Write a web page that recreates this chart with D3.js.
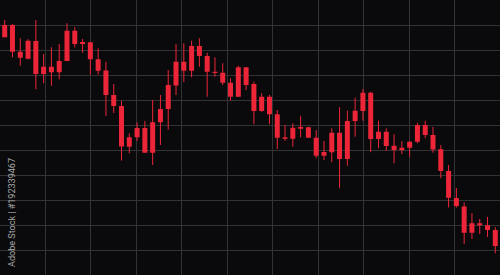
<!DOCTYPE html>
<html>
<head>
<meta charset="utf-8">
<script src="https://cdn.jsdelivr.net/npm/d3@7"></script>
<style>
  html, body { margin: 0; padding: 0; background: #0a0a0c; }
  #chart { width: 500px; height: 275px; overflow: hidden; }
</style>
</head>
<body>
<div id="chart"></div>
<script>
let w = 500;
let h = 275;

// candles, left to right
let opens  = [95.1, 100, 89.3, 86.5, 93.6, 80.4, 83.3, 81.1, 85.6, 97.7, 92.4, 93.1, 86.3, 81.8, 72, 67.6,
  51.3, 55.1, 58.8, 48.9, 61.1, 66.4, 75.8, 85.3, 81.7, 91.6, 87.6, 81.3, 80.9, 76.9, 71.3, 83.1,
  76.4, 65.6, 71.3, 64.3, 54.5, 54.5, 58.5, 59.1, 54.9, 47.7, 49.1, 56.9, 46.4, 61.6, 65.6, 72.9,
  54.4, 57.3, 51.7, 50, 50.9, 53.3, 60, 56, 50.3, 41.6, 30.8, 27.4, 16.9, 20.7, 19.9, 18];
let closes = [100, 89.3, 86.9, 93.7, 80.4, 83.3, 81.1, 85.6, 97.7, 92.4, 93.2, 86.3, 81.7, 72, 67.6, 51.4,
  55.1, 58.8, 48.9, 61.1, 66.4, 76, 85.3, 81.7, 91.6, 87.6, 81.3, 80.9, 76.9, 71.3, 83.1, 76,
  65.6, 71.3, 64.3, 54.9, 55.1, 58.9, 59.2, 54.9, 47.7, 49.2, 56.9, 46.4, 61.6, 65.7, 72.9, 54.4,
  57.3, 51.6, 50, 50.9, 53.3, 60, 56, 50.2, 41.6, 30.9, 27.6, 16.9, 20.7, 19.9, 18, 11.6];
let highs  = [102, 100.4, 94.7, 94.3, 102, 88.4, 91.1, 92.4, 100.7, 99.1, 94.4, 93.1, 90.7, 85.3, 76.4, 69.6,
  56.6, 61, 61.6, 70, 72, 82, 92.4, 92.7, 93.7, 94.7, 88.9, 87.1, 84.7, 78.7, 83.7, 83.1,
  77.3, 72.7, 72, 66, 60, 60.7, 63.7, 59.3, 58, 53.6, 58.7, 67.1, 65.7, 70.9, 74.4, 73.3,
  61.7, 58.7, 56.3, 53.6, 53.6, 60.9, 61.7, 59.2, 52, 44, 34.8, 29, 24.8, 22.4, 23.2, 19.1];
let lows   = [95.1, 87.1, 83.7, 86.3, 74.3, 76.7, 75.7, 78.3, 85.6, 91.1, 88.9, 80.2, 80.2, 63.6, 64.8, 45.8,
  48.7, 53.7, 48.9, 44, 52, 58.2, 72, 77.2, 79.1, 83.3, 71.3, 79.3, 76, 69.7, 71.3, 74,
  60.3, 65.3, 60.3, 50.4, 53.6, 51.3, 55.1, 54.9, 46.7, 46, 45.1, 34.7, 43.7, 55.3, 61.7, 49.1,
  50.7, 49.7, 44.7, 48.4, 47.1, 52.7, 54.7, 48.9, 38.7, 27, 27, 12.4, 14.4, 16.4, 15.2, 8.7];

let priceGrid = [10, 20, 30, 40, 50, 60, 70, 80, 90, 100];
let timeGrid = [1, 2, 3, 4, 5, 6, 7, 8, 9, 10];
let stamp = 'Adobe Stock | #192339467';

let candles = opens.map((o, i) => ({ i: i, o: o, c: closes[i], hi: highs[i], lo: lows[i] }));

let svg = d3.select('#chart').
append('svg').
attr('width', w).
attr('height', h);

svg.append('rect').
attr('width', w).
attr('height', h).
attr('fill', '#0a0a0c');

let x = d3.scalePoint().
domain(candles.map(d => d.i)).
range([0.8, 499.2]).
padding(0.5);

let y = d3.scaleLinear().
domain([0, 110]).
range([h, 0]);

let xGrid = d3.scaleLinear().
domain([0, 11]).
range([0, w]);

let grid = svg.append('g').
attr('stroke', '#333336').
attr('stroke-width', 1).
attr('shape-rendering', 'crispEdges');

grid.selectAll('.hline').
data(priceGrid).
join('line').
attr('class', 'hline').
attr('x1', 0).
attr('x2', w).
attr('y1', d => y(d)).
attr('y2', d => y(d));

grid.selectAll('.vline').
data(timeGrid).
join('line').
attr('class', 'vline').
attr('y1', 0).
attr('y2', h).
attr('x1', d => xGrid(d)).
attr('x2', d => xGrid(d));

let candle = svg.selectAll('.candle').
data(candles).
join('g').
attr('class', 'candle').
attr('fill', '#ec2538').
attr('stroke', '#ec2538');

candle.append('line').
attr('x1', d => x(d.i)).
attr('x2', d => x(d.i)).
attr('y1', d => y(d.hi)).
attr('y2', d => y(d.lo)).
attr('stroke-width', 1);

candle.append('rect').
attr('stroke', 'none').
attr('x', d => x(d.i) - 2.5).
attr('width', 5).
attr('y', d => y(Math.max(d.o, d.c))).
attr('height', d => Math.max(1.2, y(Math.min(d.o, d.c)) - y(Math.max(d.o, d.c))));

svg.append('text').
attr('transform', 'translate(15,267) rotate(-90)').
attr('font-family', 'Roboto, "DejaVu Sans", sans-serif').
attr('font-size', 9).
attr('fill', '#a9a9a9').
attr('textLength', 109).
attr('lengthAdjust', 'spacingAndGlyphs').
text(stamp);
</script>
</body>
</html>
